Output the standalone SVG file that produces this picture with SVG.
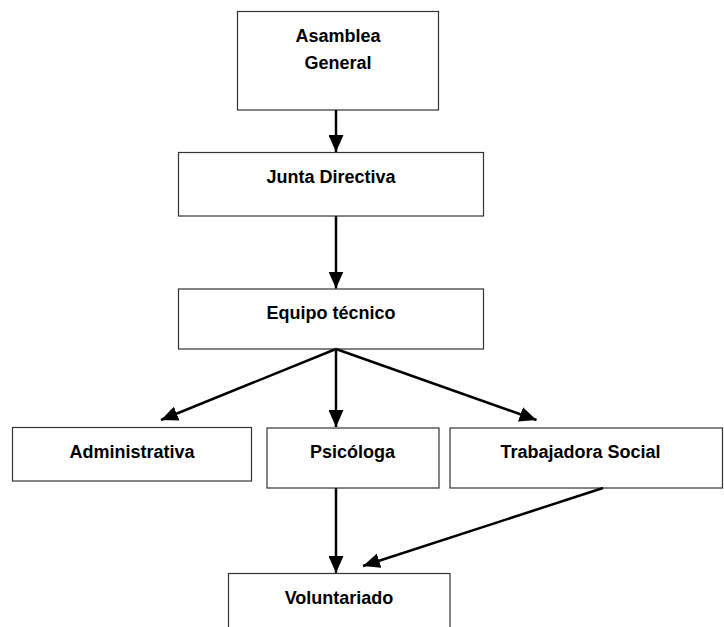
<svg xmlns="http://www.w3.org/2000/svg" width="724" height="627" viewBox="0 0 724 627">
  <defs>
    <style>
      .box { fill: #ffffff; stroke: #333333; stroke-width: 1.2; }
      .lbl { font-family: "Liberation Sans", Arial, sans-serif; font-weight: bold; font-size: 18px; fill: #000000; text-anchor: middle; }
      .conn { stroke: #000000; stroke-width: 2.5; fill: none; marker-end: url(#arrow); }
    </style>
    <marker id="arrow" markerUnits="userSpaceOnUse" markerWidth="17" markerHeight="15" refX="17" refY="7.5" orient="auto" viewBox="0 0 17 15">
      <path d="M0,0 L17,7.5 L0,15 z" fill="#000000"/>
    </marker>
  </defs>
  <rect width="724" height="627" fill="#ffffff"/>

  <g id="asamblea-general">
    <rect class="box" x="237.5" y="11.5" width="201" height="98.5"/>
    <text class="lbl" x="338" y="42">Asamblea</text>
    <text class="lbl" x="338" y="68.5">General</text>
  </g>
  <g id="junta-directiva">
    <rect class="box" x="178.5" y="152.5" width="305" height="63.5"/>
    <text class="lbl" x="331" y="183">Junta Directiva</text>
  </g>
  <g id="equipo-tecnico">
    <rect class="box" x="178.5" y="289" width="305" height="60"/>
    <text class="lbl" x="331" y="319">Equipo técnico</text>
  </g>
  <g id="administrativa">
    <rect class="box" x="12.5" y="427.5" width="239" height="53.5"/>
    <text class="lbl" x="132" y="458">Administrativa</text>
  </g>
  <g id="psicologa">
    <rect class="box" x="267" y="428" width="172" height="60"/>
    <text class="lbl" x="352.5" y="457.5">Psicóloga</text>
  </g>
  <g id="trabajadora-social">
    <rect class="box" x="450" y="428" width="272.5" height="60"/>
    <text class="lbl" x="580.5" y="458">Trabajadora Social</text>
  </g>
  <g id="voluntariado">
    <rect class="box" x="228.5" y="573.5" width="221.5" height="70"/>
    <text class="lbl" x="339" y="603.5">Voluntariado</text>
  </g>

  <g id="connectors">
    <line class="conn" x1="336" y1="110" x2="336" y2="152"/>
    <line class="conn" x1="336" y1="216" x2="336" y2="288.5"/>
    <line class="conn" x1="336" y1="349" x2="161" y2="420"/>
    <line class="conn" x1="336" y1="349" x2="336" y2="427"/>
    <line class="conn" x1="336" y1="349" x2="536.5" y2="420"/>
    <line class="conn" x1="336" y1="488" x2="336" y2="573"/>
    <line class="conn" x1="603" y1="488" x2="363" y2="566"/>
  </g>
</svg>
